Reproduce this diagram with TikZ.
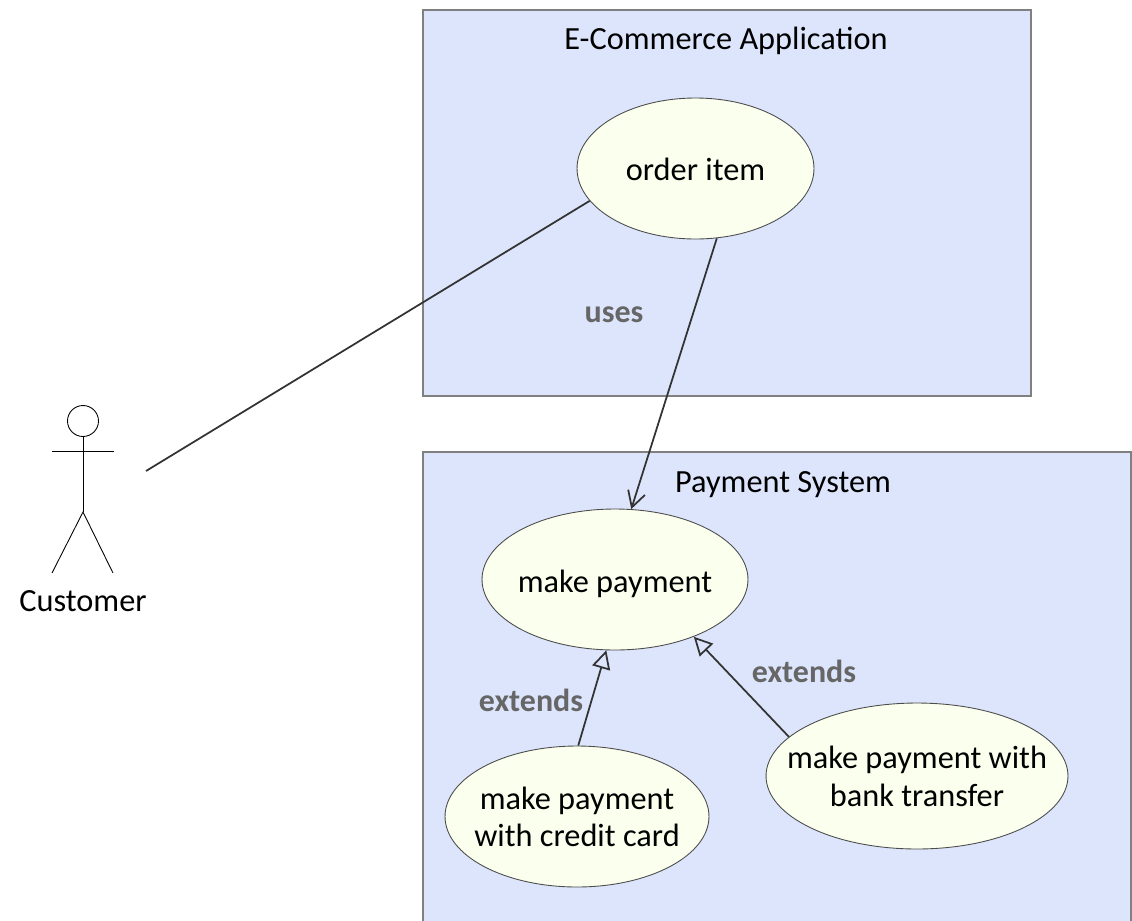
\documentclass[tikz,border=0pt]{standalone}
\usepackage{fontspec}
\setmainfont{Carlito}
\usetikzlibrary{shapes.geometric,arrows.meta}
\newcommand{\tallline}{\rule{0pt}{13.4pt}}

\begin{document}
\begin{tikzpicture}[x=0.02cm,y=-0.02cm]
    \definecolor{boxcolor}{HTML}{DCE5FB}
    \definecolor{casecolor}{HTML}{FBFFEE}
    \definecolor{notecolor}{HTML}{666666}
    \tikzset{sysbox/.style={draw=black!50,fill=boxcolor,line width=1pt},
      usecase/.style={ellipse,draw=black!70,fill=casecolor,inner sep=-1cm,
        align=center,font=\fontsize{18.4}{21.4}\selectfont,line width=0.5pt},
      title/.style={font=\fontsize{18.4}{20.4}\selectfont},
      note/.style={text=notecolor,font=\fontsize{18.2}{20.4}\selectfont\bfseries},
      link/.style={black!80,line width=1pt},
      stick/.style={black,line width=0.5pt}}

    \clip (0,0) rectangle (1132,920);

    % system boxes
    \draw[sysbox] (423,10) rectangle (1031,396);
    \draw[sysbox] (423,452) rectangle (1131,940);
    \node[title] (shoptitle) at (726,41) {E-Commerce Application};
    \node[title] (paytitle) at (783,485) {Payment System};

    % use cases
    \node[usecase,minimum width=4.74cm,minimum height=2.82cm] (order) at (695.5,168.5) {\tallline order item};
    \node[usecase,minimum width=5.32cm,minimum height=2.82cm] (pay) at (615,579.5) {\rule{0pt}{18pt}make payment};
    \node[usecase,minimum width=5.28cm,minimum height=2.82cm] (credit) at (577,816.5) {\tallline make payment\\with credit card};
    \node[usecase,minimum width=6.04cm,minimum height=2.92cm] (bank) at (917,776) {\tallline make payment with\\bank transfer};

    % actor
    \node[circle,stick,draw,minimum size=0.62cm,inner sep=0pt] (head) at (83,421) {};
    \coordinate (hip) at (83,512);
    \coordinate (armleft) at (52,451);
    \coordinate (armright) at (114,451);
    \coordinate (footleft) at (52,573);
    \coordinate (footright) at (113,573);
    \coordinate (custend) at (146,471);
    \draw[stick] (head.south) -- (hip);
    \draw[stick] (armleft) -- (armright);
    \draw[stick] (footleft) -- (hip) -- (footright);
    \node[title] (customer) at (83,601) {Customer};

    % connectors
    \draw[link] (custend) -- (order.197.6);
    \draw[link,-{Straight Barb[length=9pt,width=10pt]}] (order.-73.8) -- (pay.77.9);
    \draw[link,-{Triangle[open,length=10.5pt,width=10.5pt]}] (credit.89.2) -- (pay.263.5);
    \draw[link,-{Triangle[open,length=10.5pt,width=10.5pt]}] (bank.163) -- (pay.-36.3);

    \node[note] (useslabel) at (614,315) {uses};
    \node[note] (extcredit) at (531,700) {extends};
    \node[note] (extbank) at (804,671) {extends};
\end{tikzpicture}
\end{document}
